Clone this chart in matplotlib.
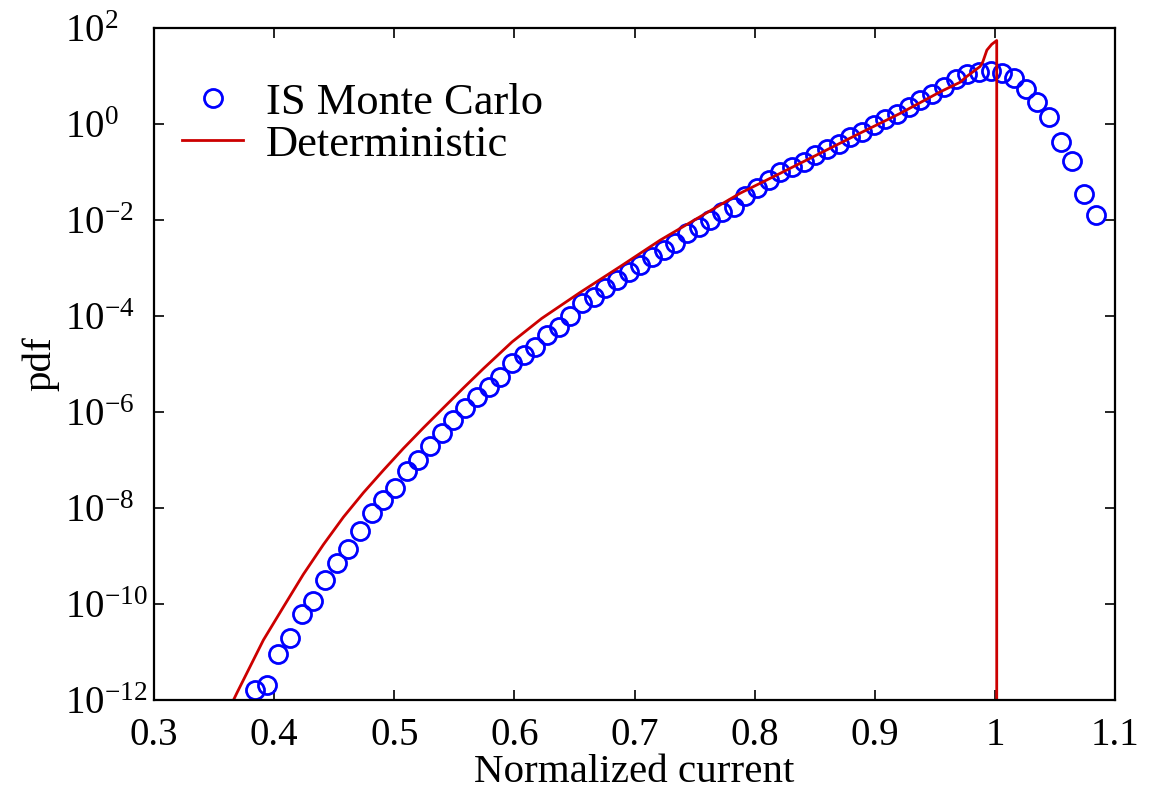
import numpy as np
import matplotlib
matplotlib.use('Agg')
import matplotlib.pyplot as plt
from matplotlib.ticker import FixedLocator, NullLocator

plt.rcParams['font.family'] = ['Liberation Serif', 'DejaVu Serif']
plt.rcParams['mathtext.fontset'] = 'custom'
plt.rcParams['mathtext.rm'] = 'Liberation Serif'
plt.rcParams['mathtext.it'] = 'Liberation Serif:italic'

# IS Monte Carlo histogram: bin centres and log10(pdf)
mc_x0 = 0.384
mc_dx = 0.00972
mc_log_pdf = [
    -11.79, -11.69, -11.04, -10.71, -10.21, -9.94, -9.50, -9.15, -8.85, -8.48,
    -8.10, -7.83, -7.58, -7.23, -7.00, -6.71, -6.44, -6.17, -5.92, -5.69,
    -5.48, -5.27, -4.98, -4.81, -4.65, -4.40, -4.23, -4.00, -3.73, -3.60,
    -3.42, -3.25, -3.08, -2.94, -2.77, -2.63, -2.48, -2.27, -2.15, -2.00,
    -1.83, -1.73, -1.50, -1.33, -1.17, -1.00, -0.90, -0.79, -0.65, -0.52,
    -0.42, -0.27, -0.17, -0.02, 0.10, 0.21, 0.35, 0.50, 0.63, 0.77,
    0.94, 1.04, 1.08, 1.10, 1.06, 0.96, 0.73, 0.46, 0.15, -0.38,
    -0.77, -1.46, -1.90,
]
mc_x = mc_x0 + mc_dx * np.arange(len(mc_log_pdf))
mc_pdf = 10.0 ** np.array(mc_log_pdf)

# deterministic solution, ends with a drop at x ~ 1
det_x = [0.360, 0.3688, 0.391, 0.4077, 0.4243, 0.441, 0.4576, 0.4743, 0.491,
         0.5075, 0.5242, 0.541, 0.5575, 0.574, 0.598, 0.6227, 0.6546, 0.688,
         0.7213, 0.7546, 0.788, 0.821, 0.8544, 0.8877, 0.921, 0.9544, 0.971,
         0.9765, 0.9877, 0.990, 0.9933, 0.9973, 1.0015, 1.0015]
det_log_pdf = [-12.32, -11.86, -10.75, -10.06, -9.38, -8.76, -8.19, -7.68, -7.21,
               -6.76, -6.33, -5.91, -5.50, -5.10, -4.54, -4.05, -3.51, -2.97,
               -2.42, -1.93, -1.44, -1.03, -0.61, -0.19, 0.22, 0.67, 0.87,
               0.99, 1.20, 1.30, 1.54, 1.66, 1.74, -14.0]
det_pdf = 10.0 ** np.array(det_log_pdf)

fig = plt.figure(figsize=(11.5, 7.94), dpi=100)
ax = fig.add_axes([0.134, 0.1184, 0.8356, 0.8463])

ax.semilogy(mc_x, mc_pdf, 'o', mfc='none', mec='#0000FF', ms=13, mew=2.0,
            label='IS Monte Carlo')
ax.semilogy(det_x, det_pdf, '-', color='#CC0000', lw=2.0, label='Deterministic')

ax.set_xlim(0.3, 1.1)
ax.set_ylim(1e-12, 1e2)
ax.xaxis.set_major_locator(FixedLocator(np.arange(0.3, 1.11, 0.1)))
ax.set_xticklabels(['0.3', '0.4', '0.5', '0.6', '0.7', '0.8', '0.9', '1', '1.1'])
yt = [10.0 ** k for k in range(-12, 3, 2)]
ax.yaxis.set_major_locator(FixedLocator(yt))
ax.yaxis.set_minor_locator(NullLocator())
ax.set_yticklabels([r'$10^{%d}$' % k for k in range(-12, 3, 2)])
for lab in ax.get_yticklabels():
    lab.set_horizontalalignment('left')

ax.tick_params(which='both', direction='in', top=True, right=True,
               length=7, width=1.2, labelsize=28)
ax.tick_params(axis='x', pad=12)
ax.tick_params(axis='y', pad=64)
for s in ax.spines.values():
    s.set_linewidth(1.6)

ax.set_xlabel('Normalized current', fontsize=29.5, labelpad=0)
ax.set_ylabel('pdf', fontsize=29.5, labelpad=4)

ax.legend(loc='upper left', frameon=False, fontsize=32, handlelength=1.38,
          borderaxespad=0, borderpad=0, bbox_to_anchor=(0.029, 0.919),
          handletextpad=0.5, labelspacing=0.05)

fig.savefig('out.png', dpi=100)
